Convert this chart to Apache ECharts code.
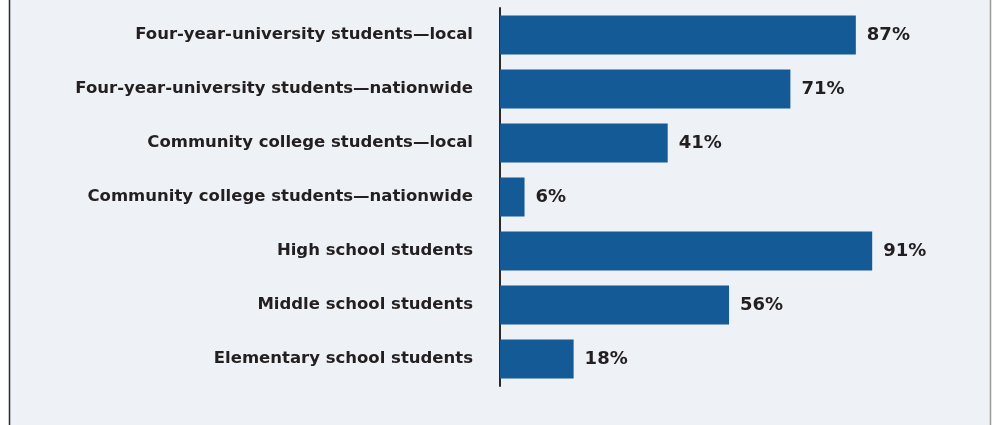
<!DOCTYPE html>
<html><head><meta charset="utf-8">
<script src="https://cdn.jsdelivr.net/npm/echarts@6/dist/echarts.min.js"></script>
<style>html,body{margin:0;padding:0;background:#fff}#c{width:992px;height:425px}</style>
</head><body><div id="c"></div>
<script>
const categories = [
  "Four-year-university students\u2014local",
  "Four-year-university students\u2014nationwide",
  "Community college students\u2014local",
  "Community college students\u2014nationwide",
  "High school students",
  "Middle school students",
  "Elementary school students"
];
const values = [87, 71, 41, 6, 91, 56, 18];

const chart = echarts.init(document.getElementById('c'));
chart.setOption({
  animation: false,
  graphic: [
    {type:'rect', z:-10, shape:{x:10,y:0,width:980,height:425}, style:{fill:'#EEF1F6'}},
    {type:'line', z:-5, shape:{x1:9.5,y1:0,x2:9.5,y2:425}, style:{stroke:'#2a2a2a',lineWidth:1.5}},
    {type:'line', z:-5, shape:{x1:990.5,y1:0,x2:990.5,y2:425}, style:{stroke:'#9a9a9a',lineWidth:1.5}}
  ],
  grid: {left: 500, right: 83, top: 8, height: 378},
  xAxis: {type:'value', min:0, max:100, show:false},
  yAxis: {
    type:'category', data: categories, inverse: true,
    axisLine:{show:true, lineStyle:{color:'#2a2a2a', width:2}},
    axisTick:{show:false},
    axisLabel:{margin:27, color:'#231F20', fontSize:16.5, fontWeight:'bold', fontFamily:'DejaVu Sans'}
  },
  series: [{
    type:'bar', data: values, barWidth: 39,
    itemStyle:{color:'#135A96'},
    label:{show:true, position:'right', distance:11, formatter:'{c}%', color:'#231F20', fontSize:18, fontWeight:'bold', fontFamily:'DejaVu Sans'}
  }]
});
</script></body></html>
